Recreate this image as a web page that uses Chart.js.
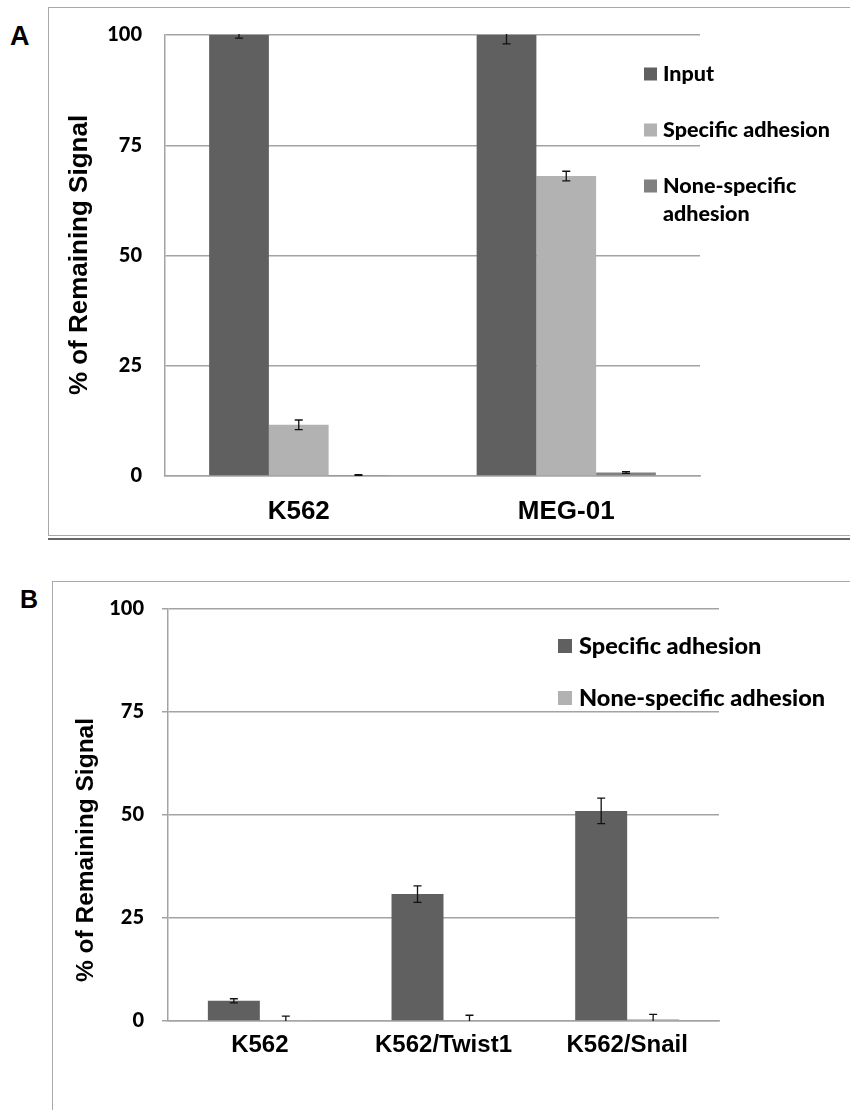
<!DOCTYPE html>
<html>
<head>
<meta charset="utf-8">
<script src="https://cdn.jsdelivr.net/npm/chart.js@4"></script>
<style>
  body { margin: 0; background: #fff; width: 850px; height: 1110px; position: relative; overflow: hidden; }
  .panel { position: absolute; }
  .tag { position: absolute; font: bold 27px 'Liberation Sans', Arial, sans-serif; color: #000; }
  .box { position: absolute; border: 1px solid #a8a8a8; border-right: none; }
</style>
</head>
<body>
<div class="tag" style="left:10px;top:21px;">A</div>
<div class="box" style="left:48px;top:7px;width:810px;height:527px;"></div>
<div style="position:absolute;left:48px;top:538px;width:802px;height:2px;background:#666;"></div>
<div class="tag" style="left:20px;top:585px;font-size:25px;">B</div>
<div class="box" style="left:52px;top:581px;width:810px;height:540px;border-bottom:none;"></div>

<canvas id="chartA" class="panel" width="850" height="530" style="left:0;top:0;"></canvas>
<canvas id="chartB" class="panel" width="850" height="550" style="left:0;top:560px;"></canvas>

<script>
// panel A
const labelsA = ['K562', 'MEG-01'];
const inputA = [100, 100];
const inputErrA = [0.7, 2.0];
const specificA = [11.6, 68.0];
const specificErrA = [1.1, 1.1];
const noneA = [0.2, 0.8];
const noneErrA = [0.1, 0.2];

// panel B
const labelsB = ['K562', 'K562/Twist1', 'K562/Snail'];
const specificB = [4.9, 30.8, 51.0];
const specificErrB = [0.5, 2.0, 3.1];
const noneB = [0.1, 0.2, 0.4];
const noneErrB = [1.1, 1.2, 1.2];

const yTicks = [0, 25, 50, 75, 100];
const yTitle = '% of Remaining Signal';

const DARK = '#606060';
const LIGHT = '#b2b2b2';
const MID = '#808080';
const GRID = '#a3a3a3';

// error bars, clipped to the chart area
const errorBars = {
  id: 'errorBars',
  afterDatasetsDraw(chart) {
    const { ctx, chartArea } = chart;
    const y = chart.scales.y;
    ctx.save();
    ctx.beginPath();
    ctx.rect(chartArea.left, chartArea.top - 1, chartArea.right - chartArea.left, chartArea.bottom - chartArea.top + 1);
    ctx.clip();
    ctx.strokeStyle = '#111';
    ctx.lineWidth = 1.3;
    chart.data.datasets.forEach((ds, i) => {
      if (!ds.errors) return;
      chart.getDatasetMeta(i).data.forEach((bar, j) => {
        const v = ds.data[j], e = ds.errors[j];
        const yt = y.getPixelForValue(v + e);
        const yb = y.getPixelForValue(v - e);
        const x = bar.x;
        ctx.beginPath();
        ctx.moveTo(x, yt); ctx.lineTo(x, yb);
        ctx.moveTo(x - 4, yt); ctx.lineTo(x + 4, yt);
        ctx.moveTo(x - 4, yb); ctx.lineTo(x + 4, yb);
        ctx.stroke();
      });
    });
    ctx.restore();
  }
};

// legend squares + wrapped labels at a fixed place
const sideLegend = {
  id: 'sideLegend',
  afterDraw(chart, args, opts) {
    const { ctx } = chart;
    ctx.save();
    ctx.font = opts.font;
    ctx.textBaseline = 'middle';
    ctx.textAlign = 'left';
    let yc = opts.y;
    chart.data.datasets.forEach((ds) => {
      ctx.fillStyle = ds.backgroundColor;
      ctx.fillRect(opts.x, yc - opts.box / 2, opts.box, opts.box);
      // wrap words
      const words = ds.label.split(' ');
      const lines = [];
      let cur = '';
      words.forEach((w) => {
        const t = cur ? cur + ' ' + w : w;
        if (cur && ctx.measureText(t).width > opts.maxWidth) { lines.push(cur); cur = w; } else cur = t;
      });
      lines.push(cur);
      ctx.fillStyle = '#000';
      lines.forEach((l, k) => ctx.fillText(l, opts.x + opts.box + opts.gap, yc + k * opts.lineGap));
      yc += opts.rowGap;
    });
    ctx.restore();
  }
};

// rotated y title
const sideTitle = {
  id: 'sideTitle',
  afterDraw(chart, args, opts) {
    const { ctx } = chart;
    ctx.save();
    ctx.translate(opts.x, opts.y);
    ctx.rotate(-Math.PI / 2);
    ctx.font = opts.font;
    ctx.fillStyle = '#000';
    ctx.textAlign = 'center';
    ctx.textBaseline = 'middle';
    ctx.fillText(yTitle, 0, 0);
    ctx.restore();
  }
};

function makeOptions(o) {
  return {
    responsive: false,
    animation: false,
    layout: { padding: { top: o.top, right: o.right, left: 0, bottom: 0 } },
    plugins: {
      legend: { display: false },
      tooltip: { enabled: false },
      sideLegend: o.legend,
      sideTitle: o.title
    },
    scales: {
      x: {
        grid: { display: false },
        border: { display: true, color: GRID, width: 1.5 },
        ticks: { color: '#000', font: { family: "'Liberation Sans', Arial", weight: 'bold', size: o.xFont }, padding: o.xPad },
        afterFit(scale) { scale.height = o.xHeight; }
      },
      y: {
        min: 0,
        max: 100,
        afterBuildTicks(scale) { scale.ticks = yTicks.map((v) => ({ value: v })); },
        grid: { color: GRID, lineWidth: 1.5, drawTicks: o.tick > 0, tickLength: o.tick },
        border: { display: true, color: GRID, width: 1.5 },
        ticks: { color: '#000', font: { family: 'Lato', weight: 900, size: 20 }, padding: o.yPad },
        afterFit(scale) { scale.width = o.yWidth; }
      }
    }
  };
}

new Chart(document.getElementById('chartA'), {
  type: 'bar',
  data: {
    labels: labelsA,
    datasets: [
      { label: 'Input', data: inputA, errors: inputErrA, backgroundColor: DARK, barPercentage: 1, categoryPercentage: 0.67 },
      { label: 'Specific adhesion', data: specificA, errors: specificErrA, backgroundColor: LIGHT, barPercentage: 1, categoryPercentage: 0.67 },
      { label: 'None-specific adhesion', data: noneA, errors: noneErrA, backgroundColor: MID, barPercentage: 1, categoryPercentage: 0.67 }
    ]
  },
  options: makeOptions({
    top: 35, right: 150, yWidth: 165, xHeight: 54, tick: 0, yPad: 23, xFont: 26, xPad: 12,
    legend: { x: 644, y: 74, box: 13, gap: 6, font: "900 21.5px Lato", rowGap: 56, lineGap: 28, maxWidth: 180 },
    title: { x: 80, y: 255, font: "bold 26px 'Liberation Sans', Arial" }
  }),
  plugins: [errorBars, sideLegend, sideTitle]
});

new Chart(document.getElementById('chartB'), {
  type: 'bar',
  data: {
    labels: labelsB,
    datasets: [
      { label: 'Specific adhesion', data: specificB, errors: specificErrB, backgroundColor: DARK, barPercentage: 1, categoryPercentage: 0.566 },
      { label: 'None-specific adhesion', data: noneB, errors: noneErrB, backgroundColor: LIGHT, barPercentage: 1, categoryPercentage: 0.566 }
    ]
  },
  options: makeOptions({
    top: 49, right: 131, yWidth: 168, xHeight: 89, tick: 6, yPad: 18, xFont: 24, xPad: 2,
    legend: { x: 558, y: 86, box: 14, gap: 7, font: "900 23.5px Lato", rowGap: 52, lineGap: 28, maxWidth: 400 },
    title: { x: 86, y: 290, font: "bold 24.5px 'Liberation Sans', Arial" }
  }),
  plugins: [errorBars, sideLegend, sideTitle]
});
</script>
</body>
</html>
